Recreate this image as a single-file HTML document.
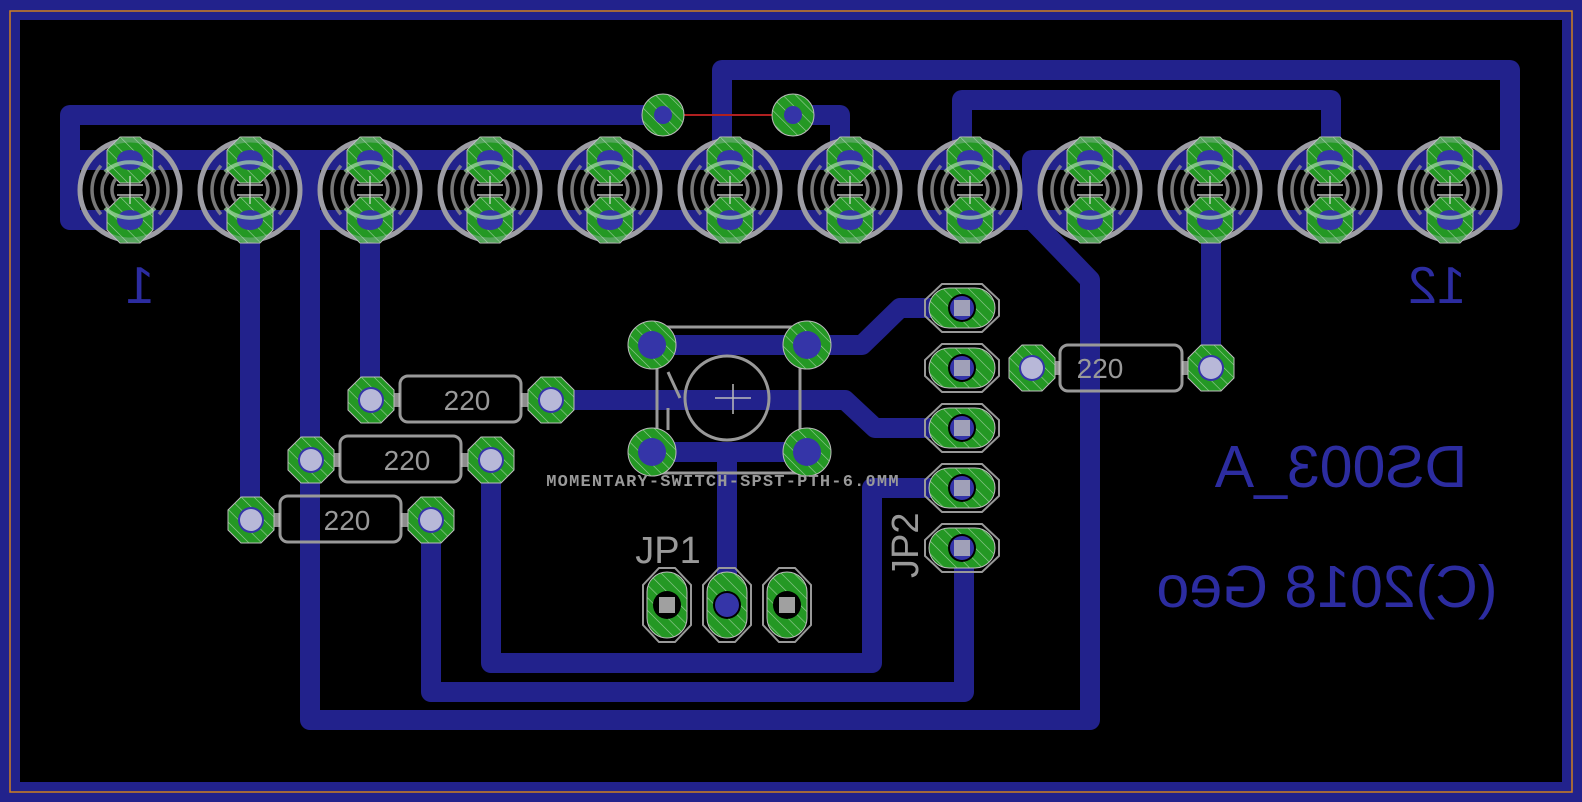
<!DOCTYPE html>
<html><head><meta charset="utf-8"><style>
html,body{margin:0;padding:0;background:#000;}
svg{display:block;}
</style></head><body>
<svg width="1582" height="802" viewBox="0 0 1582 802" xmlns="http://www.w3.org/2000/svg">
<defs>
<pattern id="h" width="9" height="9" patternUnits="userSpaceOnUse" patternTransform="rotate(-45)">
<rect width="9" height="9" fill="#249824"/>
<line x1="0" y1="0" x2="0" y2="9" stroke="#9fd09f" stroke-width="1.2"/>
</pattern>
<polygon id="oct" points="-10,-23 10,-23 23,-10 23,10 10,23 -10,23 -23,10 -23,-10"/>
<g id="led">
<circle r="50" fill="none" stroke="#8c8c8c" stroke-width="5"/>
<use href="#oct" y="-30" fill="url(#h)" stroke="#bbb" stroke-width="1"/>
<use href="#oct" y="30" fill="url(#h)" stroke="#bbb" stroke-width="1"/>
<ellipse cy="-30" rx="13" ry="10" fill="#3535a8"/>
<ellipse cy="30" rx="13" ry="10" fill="#3535a8"/>
<g fill="none" stroke="#8c8c8c" stroke-width="3.5" opacity="0.85">
<path d="M-29.1,-24.4 A38,38 0 0 0 -29.1,24.4 M29.1,-24.4 A38,38 0 0 1 29.1,24.4"/>
<path d="M-21.4,-18 A28,28 0 0 0 -21.4,18 M21.4,-18 A28,28 0 0 1 21.4,18"/>
<path d="M-13.8,-11.6 A18,18 0 0 0 -13.8,11.6 M13.8,-11.6 A18,18 0 0 1 13.8,11.6"/>
</g>
<path d="M-25,-18 A32,26 0 0 1 25,-18 M-25,18 A32,26 0 0 0 25,18" fill="none" stroke="#a9d8a9" stroke-width="4" opacity="0.7"/>
<path d="M-13,-5 H13 M-13,5 H13 M0,-14 V14" stroke="#ddd" stroke-width="1.2"/>
<circle r="50" fill="none" stroke="#c8c8dd" stroke-width="5" opacity="0.3"/>
</g>
<g id="rpad">
<use href="#oct" fill="url(#h)" stroke="#bbb" stroke-width="1"/>
<circle r="13" fill="#3535a8"/>
<circle r="11" fill="#b8b8d8"/>
</g>
<g id="jh">
<polygon points="-20,-24 20,-24 37,-8 37,8 20,24 -20,24 -37,8 -37,-8" fill="none" stroke="#999" stroke-width="2"/>
<rect x="-33" y="-20" width="66" height="40" rx="20" fill="url(#h)" stroke="#bbb" stroke-width="1"/>
<circle r="14" fill="#000"/><circle r="12" fill="#3535a8"/>
<rect x="-8" y="-8" width="16" height="16" fill="#a0a0b8"/>
</g>
<g id="jv">
<polygon points="-24,-20 -24,20 -8,37 8,37 24,20 24,-20 8,-37 -8,-37" fill="none" stroke="#999" stroke-width="2"/>
<rect x="-20" y="-33" width="40" height="66" rx="20" fill="url(#h)" stroke="#bbb" stroke-width="1"/>
<circle r="14" fill="#000"/>
<rect x="-8" y="-8" width="16" height="16" fill="#a0a0a0"/>
</g>
<g id="sp">
<circle r="24" fill="url(#h)" stroke="#bbb" stroke-width="1"/>
<circle r="14" fill="#3535a8"/>
</g>
</defs>

<rect x="10" y="10" width="1562" height="782" fill="none" stroke="#22228c" stroke-width="20"/>
<rect x="10" y="11" width="1562" height="781" fill="none" stroke="#d08020" stroke-width="1.5"/>

<g fill="none" stroke="#22228c" stroke-width="20" stroke-linejoin="round" stroke-linecap="square">
<path d="M650,115 H70 V220 H1510 V70 H722 V160"/>
<path d="M790,115 H840 V160"/>
<path d="M962,160 V100 H1331 V160"/>
<path d="M80,160 H1000"/>
<path d="M1510,160 H1032 V220 L1090,280 V720 H310 V160"/>
<path d="M250,220 V520"/>
<path d="M370,220 V400"/>
<path d="M1211,220 V368"/>
<path d="M551,400 H845 L875,428 H962"/>
<path d="M650,345 H862 L900,308 H962"/>
<path d="M650,452 H800"/>
<path d="M727,452 V605"/>
<path d="M491,460 V663 H872 V488 H962"/>
<path d="M431,520 V692 H964 V548"/>
</g>
<line x1="650" y1="115" x2="790" y2="115" stroke="#b02020" stroke-width="2"/>

<use href="#led" x="130" y="190"/><use href="#led" x="250" y="190"/><use href="#led" x="370" y="190"/>
<use href="#led" x="490" y="190"/><use href="#led" x="610" y="190"/><use href="#led" x="730" y="190"/>
<use href="#led" x="850" y="190"/><use href="#led" x="970" y="190"/><use href="#led" x="1090" y="190"/>
<use href="#led" x="1210" y="190"/><use href="#led" x="1330" y="190"/><use href="#led" x="1450" y="190"/>

<circle cx="663" cy="115" r="21" fill="url(#h)" stroke="#bbb"/><circle cx="663" cy="115" r="9" fill="#3535a8"/>
<circle cx="793" cy="115" r="21" fill="url(#h)" stroke="#bbb"/><circle cx="793" cy="115" r="9" fill="#3535a8"/>

<g fill="none" stroke="#999" stroke-width="3">
<rect x="400" y="376" width="121" height="46" rx="8"/>
<rect x="340" y="436" width="121" height="46" rx="8"/>
<rect x="280" y="496" width="121" height="46" rx="8"/>
<rect x="1060" y="345" width="122" height="46" rx="8"/>
</g>
<g stroke="#c8c8c8" stroke-width="14" opacity="0.7">
<path d="M371,400 H400 M521,400 H551 M311,460 H340 M461,460 H491 M251,520 H280 M401,520 H431 M1032,368 H1060 M1182,368 H1211"/>
</g>
<use href="#rpad" x="371" y="400"/><use href="#rpad" x="551" y="400"/>
<use href="#rpad" x="311" y="460"/><use href="#rpad" x="491" y="460"/>
<use href="#rpad" x="251" y="520"/><use href="#rpad" x="431" y="520"/>
<use href="#rpad" x="1032" y="368"/><use href="#rpad" x="1211" y="368"/>
<g font-family="Liberation Sans, sans-serif" font-size="28" fill="#999" text-anchor="middle">
<text x="467" y="410">220</text>
<text x="407" y="470">220</text>
<text x="347" y="530">220</text>
<text x="1100" y="378">220</text>
</g>

<rect x="657" y="327" width="143" height="146" fill="none" stroke="#999" stroke-width="3"/>
<circle cx="727" cy="398" r="42" fill="none" stroke="#999" stroke-width="3"/>
<path d="M715,398 H751 M733,384 V414" stroke="#bbb" stroke-width="1.5"/>
<path d="M668,372 L680,398 M668,408 V430" stroke="#999" stroke-width="3"/>
<use href="#sp" x="652" y="345"/><use href="#sp" x="807" y="345"/>
<use href="#sp" x="652" y="452"/><use href="#sp" x="807" y="452"/>
<text x="723" y="486" font-family="Liberation Mono, monospace" font-weight="bold" font-size="17" fill="#999" text-anchor="middle" letter-spacing="1.2">MOMENTARY-SWITCH-SPST-PTH-6.0MM</text>

<use href="#jh" x="962" y="308"/><use href="#jh" x="962" y="368"/><use href="#jh" x="962" y="428"/>
<use href="#jh" x="962" y="488"/><use href="#jh" x="962" y="548"/>
<text transform="translate(918,578) rotate(-90)" font-family="Liberation Sans, sans-serif" font-size="38" fill="#999">JP2</text>

<use href="#jv" x="667" y="605"/><use href="#jv" x="727" y="605"/><use href="#jv" x="787" y="605"/>
<circle cx="727" cy="605" r="12" fill="#3535a8"/>
<text x="668" y="563" font-family="Liberation Sans, sans-serif" font-size="38" fill="#999" text-anchor="middle">JP1</text>

<g font-family="Liberation Sans, sans-serif" fill="#2c2ca0" text-anchor="middle">
<text transform="translate(140,303) scale(-1,1)" font-size="52">1</text>
<text transform="translate(1437,303) scale(-1,1)" font-size="52">12</text>
<text transform="translate(1341,487) scale(-1,1)" font-size="59">DS003_A</text>
<text transform="translate(1327,607) scale(-1,1)" font-size="59">(C)2018 Geo</text>
</g>
</svg>
</body></html>
